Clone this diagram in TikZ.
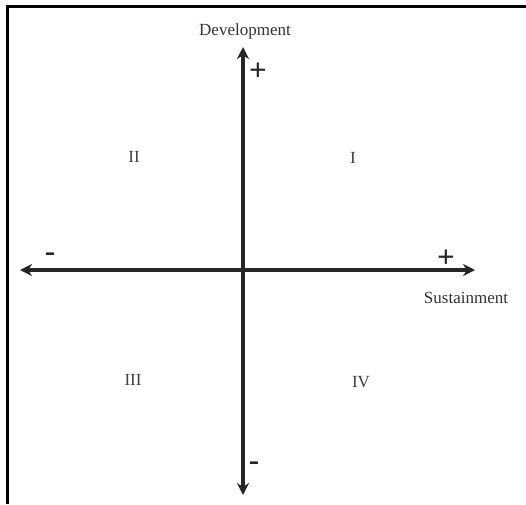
\documentclass[tikz,border=0pt]{standalone}
\usepackage{fontspec}
\setmainfont{Liberation Serif}
\usetikzlibrary{arrows.meta}
\begin{document}
\begin{tikzpicture}[x=1pt,y=-1pt,
  axis/.style={line width=3.2pt,draw=black!85,-{Stealth[length=12pt,width=12pt]}},
  lbl/.style={font=\fontsize{17}{17}\selectfont,inner sep=0pt,text=black!80},
  quad/.style={font=\fontsize{17}{17}\selectfont,inner sep=0pt,text=black!75},
  sign/.style={font=\fontsize{31}{31}\selectfont\bfseries,inner sep=0pt,text=black!85}]
\useasboundingbox (0,0) rectangle (526,504);
\fill[white] (0,0) rectangle (526,504);
\draw[line width=2.6pt] (7.5,504) -- (7.5,6.5) -- (526,6.5);
\coordinate (O) at (243,270);
\coordinate (T) at (243,47);
\coordinate (B) at (243,495);
\coordinate (L) at (20,270);
\coordinate (R) at (475,270);
\draw[axis] (O) -- (T);
\draw[axis] (O) -- (B);
\draw[axis] (O) -- (L);
\draw[axis] (O) -- (R);
\node[lbl] (dev) at (245,31) {Development};
\node[lbl] (sus) at (466,298) {Sustainment};
\node[sign] (pv) at (258,72) {+};
\node[sign] (ph) at (446,259) {+};
\node[sign] (ml) at (50,257) {-};
\node[sign] (mb) at (254,466) {-};
\node[quad] (q1) at (353,158) {I};
\node[quad] (q2) at (134,157) {II};
\node[quad] (q3) at (133,380) {III};
\node[quad] (q4) at (361,382) {IV};
\end{tikzpicture}
\end{document}
